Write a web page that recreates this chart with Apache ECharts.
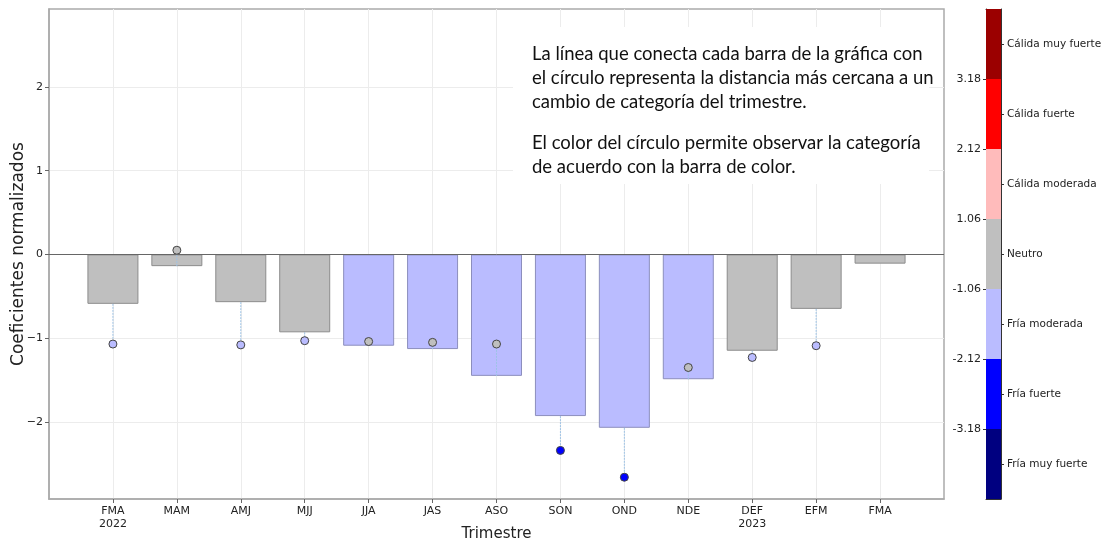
<!DOCTYPE html>
<html>
<head>
<meta charset="utf-8">
<script src="https://cdn.jsdelivr.net/npm/echarts@6/dist/echarts.min.js"></script>
<style>html,body{margin:0;padding:0;background:#fff}#c{width:1106px;height:542px}</style>
</head>
<body>
<div id="c"></div>
<script>
// ---- data ----
const tickLabels = ['FMA\n2022','MAM','AMJ','MJJ','JJA','JAS','ASO','SON','OND','NDE','DEF\n2023','EFM','FMA'];
const barValues = [-0.59,-0.14,-0.57,-0.93,-1.09,-1.13,-1.45,-1.93,-2.07,-1.49,-1.15,-0.65,-0.11];
const dotValues = [-1.07,0.05,-1.08,-1.03,-1.04,-1.05,-1.07,-2.34,-2.66,-1.35,-1.23,-1.09,null];
const barCategory = ['Neutro','Neutro','Neutro','Neutro','Fría moderada','Fría moderada','Fría moderada','Fría moderada','Fría moderada','Fría moderada','Neutro','Neutro','Neutro'];
const dotCategory = ['Fría moderada','Neutro','Fría moderada','Fría moderada','Neutro','Neutro','Neutro','Fría fuerte','Fría fuerte','Neutro','Fría moderada','Fría moderada',null];
const colorbarCategories = ['Fría muy fuerte','Fría fuerte','Fría moderada','Neutro','Cálida moderada','Cálida fuerte','Cálida muy fuerte'];
const colorbarTicks = ['-3.18','-2.12','-1.06','1.06','2.12','3.18'];
const yTicks = [-2,-1,0,1,2];
const noteParagraph1 = 'La línea que conecta cada barra de la gráfica con\nel círculo representa la distancia más cercana a un\ncambio de categoría del trimestre.';
const noteParagraph2 = 'El color del círculo permite observar la categoría\nde acuerdo con la barra de color.';

// ---- styles ----
const catColor = {
  'Fría muy fuerte':'#000080','Fría fuerte':'#0000ff','Fría moderada':'#babcff','Neutro':'#bfbfbf',
  'Cálida moderada':'#ffbbbb','Cálida fuerte':'#ff0000','Cálida muy fuerte':'#9b0000'
};
const catBorder = {'Neutro':'#8c8c8c','Fría moderada':'#8c8ebd'};
const F = 'DejaVu Sans';

const xIdx = tickLabels.map((_, i) => i);

const barData = barValues.map((v, i) => ({
  value: [i, v],
  itemStyle: {color: catColor[barCategory[i]], borderColor: catBorder[barCategory[i]], borderWidth: 1}
}));
const dotData = [];
const linkData = [];
dotValues.forEach((v, i) => {
  if (v === null) return;
  dotData.push({value: [i, v], itemStyle: {color: catColor[dotCategory[i]]}});
  linkData.push([i, barValues[i], v]);
});

const cbSeries = colorbarCategories.map((name, k) => ({
  type: 'bar', xAxisIndex: 1, yAxisIndex: 1, stack: 'cb', barWidth: '100%',
  data: [1], itemStyle: {color: catColor[name]}, silent: true, z: 1
}));

const chart = echarts.init(document.getElementById('c'), null, {renderer: 'canvas'});
chart.setOption({
  animation: false,
  backgroundColor: '#fff',
  grid: [
    {left: 49, right: 162, top: 9, bottom: 43, show: true, borderColor: '#aaaaaa', borderWidth: 1.5, backgroundColor: 'transparent', containLabel: false, outerBoundsMode: 'none'},
    {left: 986, width: 15, top: 9, height: 490, containLabel: false, outerBoundsMode: 'none'}
  ],
  xAxis: [
    {
      type: 'value', gridIndex: 0, min: -1, max: 13, interval: 1, position: 'bottom',
      name: 'Trimestre', nameLocation: 'middle', nameGap: 28, nameMoveOverlap: false,
      nameTextStyle: {fontFamily: F, fontSize: 15, color: '#222'},
      axisLine: {show: true, onZero: false, lineStyle: {color: '#aaaaaa', width: 1.5}},
      axisTick: {show: true, customValues: xIdx, length: 4, lineStyle: {color: '#666'}},
      axisLabel: {customValues: xIdx, formatter: v => tickLabels[v] || '', fontFamily: F, fontSize: 11, color: '#222', margin: 6, lineHeight: 13},
      splitLine: {show: true, lineStyle: {color: '#ececec', width: 1}}
    },
    {
      type: 'category', gridIndex: 1, data: ['cb'], position: 'bottom',
      axisLine: {show: true, onZero: false, lineStyle: {color: '#333', width: 1}}, axisTick: {show: false}, axisLabel: {show: false}
    },
    {
      type: 'category', gridIndex: 1, data: ['cb'], position: 'top',
      axisLine: {show: true, onZero: false, lineStyle: {color: '#333', width: 1}}, axisTick: {show: false}, axisLabel: {show: false}
    }
  ],
  yAxis: [
    {
      type: 'value', gridIndex: 0, min: -2.92, max: 2.93, splitNumber: 6, position: 'left',
      name: 'Coeficientes normalizados', nameLocation: 'middle', nameGap: 22, nameRotate: 90, nameMoveOverlap: false,
      nameTextStyle: {fontFamily: F, fontSize: 17, color: '#222'},
      axisLine: {show: true, onZero: false, lineStyle: {color: '#aaaaaa', width: 1.5}},
      axisTick: {show: true, customValues: yTicks, length: 4, lineStyle: {color: '#666'}},
      axisLabel: {customValues: yTicks, formatter: v => (v < 0 ? '\u2212' + Math.abs(v) : String(v)), fontFamily: F, fontSize: 11, color: '#222', margin: 6},
      splitLine: {show: true, lineStyle: {color: '#ececec', width: 1}}
    },
    {
      type: 'value', gridIndex: 1, min: 0, max: 7, interval: 1, position: 'left',
      axisLine: {show: true, onZero: false, lineStyle: {color: '#333', width: 1}},
      axisTick: {show: true, customValues: [1,2,3,4,5,6], length: 3, lineStyle: {color: '#333'}},
      axisLabel: {customValues: [1,2,3,4,5,6], formatter: v => colorbarTicks[v - 1], fontFamily: F, fontSize: 11, color: '#222', margin: 5},
      splitLine: {show: false}
    },
    {
      type: 'category', gridIndex: 1, data: colorbarCategories, position: 'right',
      axisLine: {show: true, onZero: false, lineStyle: {color: '#333', width: 1}},
      axisTick: {show: true, alignWithLabel: true, length: 3, lineStyle: {color: '#333'}},
      axisLabel: {fontFamily: F, fontSize: 10.5, color: '#222', margin: 6},
      splitLine: {show: false}
    }
  ],
  series: [
    {
      type: 'bar', xAxisIndex: 0, yAxisIndex: 0, barWidth: 51, data: barData, z: 2,
      markLine: {silent: true, symbol: 'none', label: {show: false}, lineStyle: {color: '#666', width: 1, type: 'solid'}, data: [{yAxis: 0}]}
    },
    {
      type: 'custom', xAxisIndex: 0, yAxisIndex: 0, data: linkData, z: 3,
      encode: {x: 0, y: [1, 2]},
      renderItem: (params, api) => {
        const p1 = api.coord([api.value(0), api.value(1)]);
        const p2 = api.coord([api.value(0), api.value(2)]);
        return {type: 'line', shape: {x1: p1[0], y1: p1[1], x2: p2[0], y2: p2[1]}, style: {stroke: '#9ec3e6', lineWidth: 1, lineDash: [2, 1]}};
      }
    },
    {
      type: 'scatter', xAxisIndex: 0, yAxisIndex: 0, data: dotData, symbolSize: 8, z: 4,
      itemStyle: {borderColor: '#444', borderWidth: 1, opacity: 1}
    }
  ].concat(cbSeries),
  graphic: [
    {type: 'rect', left: 513, top: 27, shape: {width: 416, height: 157}, style: {fill: '#fff'}, z: 10},
    {type: 'text', left: 532, top: 42, z: 11, style: {text: noteParagraph1, font: '18.5px Lato', lineHeight: 24, fill: '#111'}},
    {type: 'text', left: 532, top: 131, z: 11, style: {text: noteParagraph2, font: '18.5px Lato', lineHeight: 24, fill: '#111'}}
  ]
});
</script>
</body>
</html>
